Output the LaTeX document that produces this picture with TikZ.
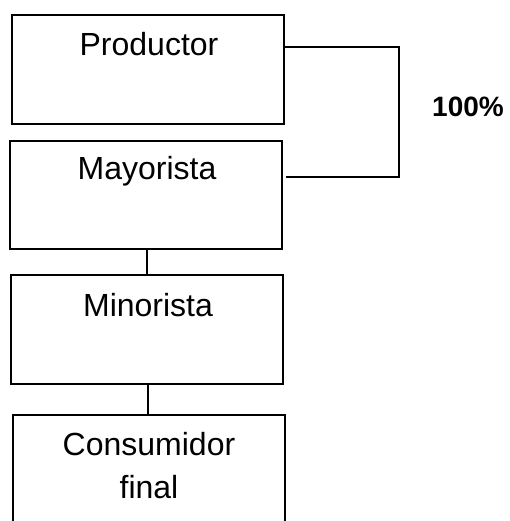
\documentclass[tikz,border=0pt]{standalone}
\usepackage{fontspec}
\setmainfont{Liberation Sans}
\begin{document}
\begin{tikzpicture}[x=1pt,y=-1pt,
  box/.style={draw, line width=2pt, minimum width=272pt, inner sep=0pt, anchor=center},
  lbl/.style={inner sep=0pt, anchor=base, font=\fontsize{32}{43}\selectfont, align=center},
  conn/.style={line width=2pt}]
\useasboundingbox (0,0) rectangle (509,521);
\clip (0,0) rectangle (509,521);
\node[box, minimum height=109pt] (p) at (148,69.5) {};
\node[box, minimum height=108pt] (m) at (146,195) {};
\node[box, minimum height=109pt] (n) at (147,329.5) {};
\node[box, minimum height=125pt] (c) at (149,477.5) {};
\node[lbl] (pt) at (149,56) {Productor};
\node[lbl] (mt) at (147,180) {Mayorista};
\node[lbl] (nt) at (148,316) {Minorista};
\node[lbl] (ct) at (149,498) {Consumidor\\final};
\node[inner sep=0pt, anchor=base, font=\fontsize{28}{34}\selectfont\bfseries] (pct) at (468,117) {100\%};
\coordinate (ya) at (0,47);
\coordinate (yb) at (0,177);
\coordinate (xr) at (399,0);
\draw[conn] (p.east |- ya) -- (xr |- ya) -- (xr |- yb) -- ([xshift=3pt]m.east |- yb);
\draw[conn] ([xshift=1pt]m.south) -- ([xshift=1pt]m.south |- n.north);
\draw[conn] ([xshift=1pt]n.south) -- ([xshift=1pt]n.south |- c.north);
\end{tikzpicture}
\end{document}
